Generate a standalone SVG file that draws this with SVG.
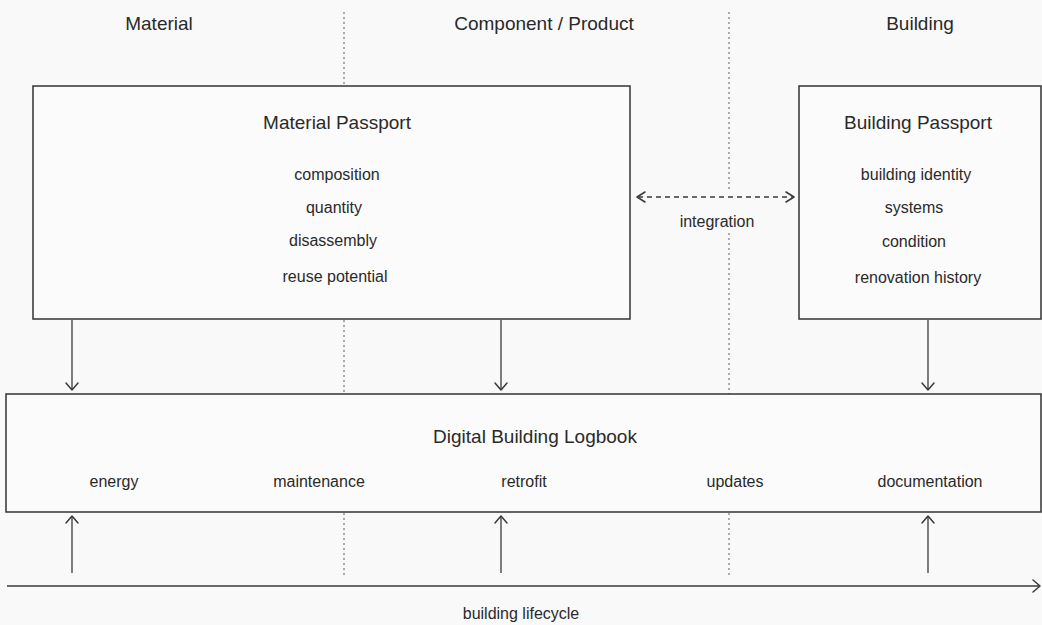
<svg xmlns="http://www.w3.org/2000/svg" width="1042" height="625" viewBox="0 0 1042 625">
<style>
text{font-family:"Liberation Sans",Arial,sans-serif;fill:#2a2a2a;text-anchor:middle}
.hdr{font-size:19px}
.ttl{font-size:19px}
.itm{font-size:16px}
.box{fill:#fbfbfb;stroke:#333;stroke-width:1.5}
.dot{stroke:#777;stroke-width:1.2;stroke-dasharray:2 3;fill:none}
.arr{stroke:#3a3a3a;stroke-width:1.3;fill:none}
.chev{stroke:#3a3a3a;stroke-width:1.5;fill:none;stroke-linecap:round;stroke-linejoin:round}
</style>
<rect x="0" y="0" width="1042" height="625" fill="#f9f9f9"/>
<g id="columns">
<line class="dot" x1="344" y1="12" x2="344" y2="86"/>
<line class="dot" x1="344" y1="320" x2="344" y2="394"/>
<line class="dot" x1="344" y1="513" x2="344" y2="578"/>
<line class="dot" x1="729" y1="12" x2="729" y2="190"/>
<line class="dot" x1="729" y1="233" x2="729" y2="394"/>
<line class="dot" x1="729" y1="513" x2="729" y2="578"/>
<text class="hdr" x="159" y="30">Material</text>
<text class="hdr" x="544" y="30">Component / Product</text>
<text class="hdr" x="920" y="30">Building</text>
</g>
<g id="material-passport">
<rect class="box" x="33" y="86" width="597" height="233"/>
<text class="ttl" x="337" y="129">Material Passport</text>
<text class="itm" x="337" y="180">composition</text>
<text class="itm" x="334" y="213">quantity</text>
<text class="itm" x="333" y="246">disassembly</text>
<text class="itm" x="335" y="282">reuse potential</text>
</g>
<g id="building-passport">
<rect class="box" x="799" y="86" width="242" height="233"/>
<text class="ttl" x="918" y="129">Building Passport</text>
<text class="itm" x="916" y="180">building identity</text>
<text class="itm" x="914" y="213">systems</text>
<text class="itm" x="914" y="247">condition</text>
<text class="itm" x="918" y="283">renovation history</text>
</g>
<g id="logbook">
<rect class="box" x="6" y="394" width="1035" height="118"/>
<text class="ttl" x="535" y="443">Digital Building Logbook</text>
<text class="itm" x="114" y="487">energy</text>
<text class="itm" x="319" y="487">maintenance</text>
<text class="itm" x="524" y="487">retrofit</text>
<text class="itm" x="735" y="487">updates</text>
<text class="itm" x="930" y="487">documentation</text>
</g>
<g id="connectors">
<line class="arr" x1="638" y1="197" x2="793" y2="197" stroke-dasharray="5 4"/>
<polyline class="chev" points="645,192 637,197 645,202"/>
<polyline class="chev" points="786,192 794,197 786,202"/>
<text class="itm" x="717" y="227">integration</text>
<line class="arr" x1="72" y1="320" x2="72" y2="390"/>
<polyline class="chev" points="66,383 72,390 78,383"/>
<line class="arr" x1="501" y1="320" x2="501" y2="390"/>
<polyline class="chev" points="495,383 501,390 507,383"/>
<line class="arr" x1="928" y1="320" x2="928" y2="390"/>
<polyline class="chev" points="922,383 928,390 934,383"/>
<line class="arr" x1="72" y1="573" x2="72" y2="516"/>
<polyline class="chev" points="66,523 72,516 78,523"/>
<line class="arr" x1="501" y1="573" x2="501" y2="516"/>
<polyline class="chev" points="495,523 501,516 507,523"/>
<line class="arr" x1="928" y1="573" x2="928" y2="516"/>
<polyline class="chev" points="922,523 928,516 934,523"/>
<line class="arr" x1="7" y1="586" x2="1040" y2="586"/>
<polyline class="chev" points="1033,580 1040,586 1033,592"/>
<text class="itm" x="521" y="619">building lifecycle</text>
</g>
</svg>
